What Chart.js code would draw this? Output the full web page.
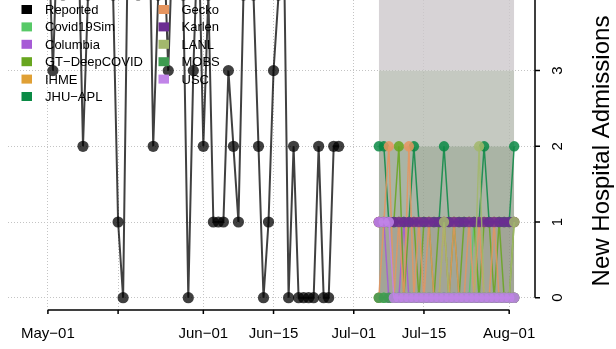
<!DOCTYPE html>
<html>
<head>
<meta charset="utf-8">
<script src="https://cdn.jsdelivr.net/npm/chart.js@4.4.1/dist/chart.umd.min.js"></script>
<style>
  html, body { margin: 0; padding: 0; background: #fff; overflow: hidden; }
  canvas { display: block; }
</style>
</head>
<body>
<canvas id="chart" width="616" height="349"></canvas>
<script>
// reported daily admissions (values above 4 run off the top of the picture)
const reportedDates = [
  '05-01','05-02','05-03','05-04','05-05','05-06','05-07','05-08','05-09','05-10',
  '05-11','05-12','05-13','05-14','05-15','05-16','05-17','05-18','05-19','05-20',
  '05-21','05-22','05-23','05-24','05-25','05-26','05-27','05-28','05-29','05-30',
  '05-31','06-01','06-02','06-03','06-04','06-05','06-06','06-07','06-08','06-09',
  '06-10','06-11','06-12','06-13','06-14','06-15','06-16','06-17','06-18','06-19',
  '06-20','06-21','06-22','06-23','06-24','06-25','06-26','06-27','06-28'
];
const reportedValues = [
  5, 3, 5, 4, 6, 5, 5, 2, 4, 5,
  7, 5, 6, 4, 1, 0, 5, 6, 4, 5,
  6, 2, 4, 5, 3, 5, 6, 4, 0, 3,
  5, 2, 4, 1, 1, 1, 3, 2, 1, 4,
  5, 4, 2, 0, 1, 3, 4, 5, 0, 2,
  0, 0, 0, 0, 2, 0, 0, 2, 2
];

const forecastDates = [
  '07-06','07-07','07-08','07-09','07-10','07-11','07-12','07-13','07-14','07-15',
  '07-16','07-17','07-18','07-19','07-20','07-21','07-22','07-23','07-24','07-25',
  '07-26','07-27','07-28','07-29','07-30','07-31','08-01','08-02'
];
const covid19Sim = [0,0,0,0,0,0,0,0,0,0,0,0,0,0,0,0,0,0,0,1,0,0,0,0,0,0,0,0];
const columbia   = [1,1,0,0,0,1,0,0,0,0,0,0,0,0,0,0,0,0,0,0,0,0,0,0,0,0,0,0];
const gtDeep     = [1,1,1,1,2,0,1,1,0,1,1,0,1,1,0,1,0,1,1,1,0,1,1,0,1,0,0,1];
const ihme       = [1,1,1,1,1,1,1,1,1,1,1,1,1,1,1,1,1,1,1,1,1,1,1,1,1,1,1,1];
const jhuApl     = [2,2,1,1,1,1,1,2,1,1,1,1,1,2,1,1,1,1,1,1,1,2,1,1,1,1,1,2];
const gecko      = [0,1,2,0,1,0,2,0,1,0,1,0,0,1,0,1,0,0,1,0,1,0,0,1,0,0,0,0];
const karlen     = [1,1,1,1,1,1,1,1,1,1,1,1,1,1,1,1,1,1,1,1,1,1,1,1,1,1,1,1];
const lanl       = [null,null,null,null,null,null,0,0,0,0,0,0,0,1,0,0,0,0,0,0,2,0,0,0,0,0,0,1];
const mobs       = [0,0,0,0,0,0,0,0,0,0,0,0,0,0,0,0,0,0,0,0,0,0,0,0,0,0,0,0];
const usc        = [1,1,1,0,0,0,0,0,0,0,0,0,0,0,0,0,0,0,0,0,0,0,0,0,0,0,0,0];

const modelNames = ['Covid19Sim','Columbia','GT\u2212DeepCOVID','IHME','JHU\u2212APL','Gecko','Karlen','LANL','MOBS','USC'];
const modelSeries = [covid19Sim, columbia, gtDeep, ihme, jhuApl, gecko, karlen, lanl, mobs, usc];
const modelColors = ['#57c967','#a65bd6','#68a61f','#e0a035','#0a8a45','#e6955f','#6b2d92','#a3b86c','#3e9b50','#c184e8'];

// stacked prediction interval bands (bounds) over the forecast window
const intervalBounds = [0, 1, 2, 3, 6];
const intervalColors = ['rgba(139,143,125,0.8)','rgba(149,161,143,0.8)','rgba(183,188,178,0.8)','rgba(205,200,204,0.8)'];

const xTickDates = ['05-01','05-15','06-01','06-15','07-01','07-15','08-01'];
const xTickLabels = ['May\u221201','','Jun\u221201','Jun\u221215','Jul\u221201','Jul\u221215','Aug\u221201'];
const yTicks = [0, 1, 2, 3, 4];

const FONT = '"Liberation Sans", Arial, Helvetica, sans-serif';

function dayOf(md) {
  const p = md.split('-').map(Number);
  return (Date.UTC(2021, p[0] - 1, p[1]) - Date.UTC(2021, 4, 1)) / 86400000;
}
function hexA(hex, a) {
  const n = parseInt(hex.slice(1), 16);
  return 'rgba(' + (n >> 16) + ',' + ((n >> 8) & 255) + ',' + (n & 255) + ',' + a + ')';
}

const datasets = [];

// bands
for (let k = 1; k < intervalBounds.length; k++) {
  datasets.push({
    data: forecastDates.map(d => ({ x: dayOf(d), y: intervalBounds[k] })),
    fill: { value: intervalBounds[k - 1] },
    backgroundColor: intervalColors[k - 1],
    borderWidth: 0,
    pointRadius: 0,
    order: 100
  });
}

datasets.push({
  data: reportedDates.map((d, i) => ({ x: dayOf(d), y: reportedValues[i] })),
  borderColor: 'rgba(0,0,0,0.75)',
  borderWidth: 2,
  pointRadius: 5.6,
  pointBackgroundColor: 'rgba(0,0,0,0.75)',
  pointBorderWidth: 0,
  clip: false,
  order: 60
});

modelSeries.forEach((vals, i) => {
  datasets.push({
    data: forecastDates.map((d, j) => ({ x: dayOf(d), y: vals[j] })),
    borderColor: hexA(modelColors[i], 0.85),
    borderWidth: 1.5,
    pointRadius: 5.2,
    pointBackgroundColor: hexA(modelColors[i], 0.85),
    pointBorderWidth: 0,
    order: 40 - i
  });
});

const rAxes = {
  id: 'rAxes',
  afterDatasetsDraw(chart) {
    const { ctx, chartArea, scales: { x, y } } = chart;
    ctx.save();
    ctx.strokeStyle = '#000';
    ctx.fillStyle = '#000';
    ctx.lineWidth = 1.5;

    // x axis
    const xb = chartArea.bottom;
    ctx.beginPath();
    ctx.moveTo(x.getPixelForValue(dayOf(xTickDates[0])), xb);
    ctx.lineTo(x.getPixelForValue(dayOf(xTickDates[xTickDates.length - 1])), xb);
    xTickDates.forEach(d => {
      const px = x.getPixelForValue(dayOf(d));
      ctx.moveTo(px, xb);
      ctx.lineTo(px, xb + 4);
    });
    ctx.stroke();
    ctx.font = '15px ' + FONT;
    ctx.textAlign = 'center';
    ctx.textBaseline = 'alphabetic';
    xTickDates.forEach((d, i) => {
      ctx.fillText(xTickLabels[i], x.getPixelForValue(dayOf(d)), 338);
    });

    // y axis on the right
    const ya = chartArea.right + 1;
    ctx.beginPath();
    ctx.moveTo(ya, y.getPixelForValue(yTicks[0]));
    ctx.lineTo(ya, y.getPixelForValue(yTicks[yTicks.length - 1]));
    yTicks.forEach(v => {
      const py = y.getPixelForValue(v);
      ctx.moveTo(ya, py);
      ctx.lineTo(ya + 5, py);
    });
    ctx.stroke();
    yTicks.forEach(v => {
      ctx.save();
      ctx.translate(561.5, y.getPixelForValue(v));
      ctx.rotate(-Math.PI / 2);
      ctx.fillText(String(v), 0, 0);
      ctx.restore();
    });
    ctx.save();
    ctx.font = '24px ' + FONT;
    ctx.translate(608.5, 151);
    ctx.rotate(-Math.PI / 2);
    ctx.fillText('New Hospital Admissions', 0, 0);
    ctx.restore();

    // legend, two columns
    const names = ['Reported'].concat(modelNames);
    const cols = ['#000000'].concat(modelColors);
    ctx.font = '13px ' + FONT;
    ctx.textAlign = 'left';
    names.forEach((nm, i) => {
      const col = i < 6 ? 0 : 1;
      const row = i % 6;
      const cy = 9.5 + row * 17.4;
      const sx = col === 0 ? 21.5 : 158.5;
      const tx = col === 0 ? 45 : 181.5;
      ctx.fillStyle = cols[i];
      ctx.fillRect(sx, cy - 4.5, 10.5, 9);
      ctx.fillStyle = '#000';
      ctx.fillText(nm, tx, cy + 4.5);
    });
    ctx.restore();
  }
};

new Chart(document.getElementById('chart'), {
  type: 'line',
  data: { datasets: datasets },
  options: {
    responsive: false,
    animation: false,
    devicePixelRatio: 1,
    events: [],
    layout: { autoPadding: false, padding: { left: 8, right: 82, top: 0, bottom: 39 } },
    elements: { line: { tension: 0 } },
    plugins: { legend: { display: false }, tooltip: { enabled: false } },
    scales: {
      x: {
        type: 'linear',
        min: -7.96,
        max: 96.95,
        afterFit: s => { s.height = 0; },
        afterBuildTicks: s => { s.ticks = xTickDates.map(d => ({ value: dayOf(d) })); },
        ticks: { display: false },
        grid: { color: '#c4c4c4', lineWidth: 1, drawTicks: false },
        border: { display: false, dash: [1, 2] }
      },
      y: {
        type: 'linear',
        position: 'right',
        min: -0.1625,
        max: 3.933,
        afterFit: s => { s.width = 0; },
        afterBuildTicks: s => { s.ticks = yTicks.map(v => ({ value: v })); },
        ticks: { display: false },
        grid: { color: '#c4c4c4', lineWidth: 1, drawTicks: false },
        border: { display: false, dash: [1, 2] }
      }
    }
  },
  plugins: [rAxes]
});
</script>
</body>
</html>
